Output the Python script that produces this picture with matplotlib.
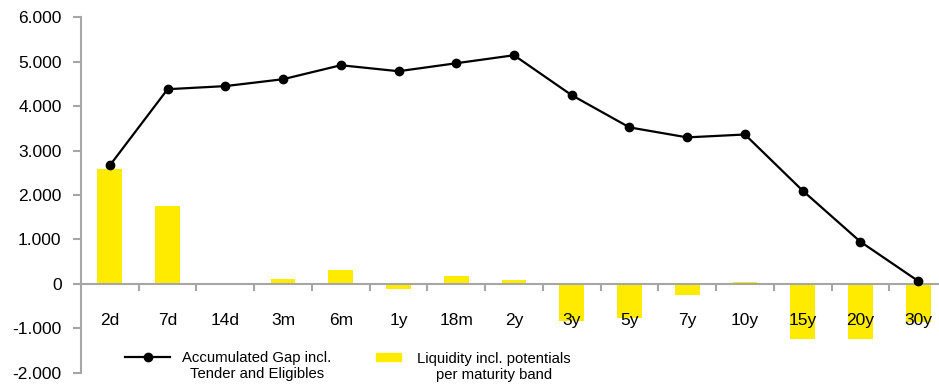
import matplotlib.pyplot as plt
from matplotlib.ticker import FuncFormatter
import numpy as np

bands = ['2d', '7d', '14d', '3m', '6m', '1y', '18m', '2y', '3y', '5y',
         '7y', '10y', '15y', '20y', '30y']
# accumulated gap (line) and liquidity per band (bars)
gap = [2670, 4385, 4455, 4610, 4925, 4790, 4970, 5150, 4250, 3525,
       3300, 3365, 2100, 950, 65]
liquidity = [2580, 1765, 0, 110, 315, -110, 180, 90, -835, -770,
             -250, 45, -1245, -1245, -860]

plt.rcParams['font.family'] = ['Liberation Sans', 'DejaVu Sans']
fig = plt.figure(figsize=(9.39, 3.87), dpi=100)
ax = fig.add_axes([81 / 939, 1 - 372.7 / 387, 866 / 939, 355.2 / 387])

x = np.arange(len(bands))
grey = '#a6a6a6'
ax.bar(x, liquidity, width=0.43, color='#ffeb00', zorder=1)
ax.plot(x, gap, color='black', lw=1.6, marker='o', ms=6, zorder=3)
ax.xaxis.set_zorder(2.5)

ax.set_xlim(-0.5, len(bands) - 0.5)
ax.set_ylim(-2000, 6000)
ax.set_yticks(range(-2000, 6001, 1000))
ax.yaxis.set_major_formatter(FuncFormatter(lambda v, p: f'{v:,.0f}'.replace(',', '.')))

ax.spines['top'].set_visible(False)
ax.spines['right'].set_visible(False)
ax.spines['bottom'].set_position(('data', 0))
for s in ('left', 'bottom'):
    ax.spines[s].set_color(grey)
    ax.spines[s].set_linewidth(1.5)
ax.spines['bottom'].set_zorder(2)

ax.set_xticks(x)
ax.set_xticklabels(bands)
ax.set_xticks(np.arange(0.5, len(bands) - 1, 1), minor=True)
ax.tick_params(axis='x', which='major', length=0, pad=21, labelsize=12.5)
ax.tick_params(axis='x', which='minor', length=5, width=1.5, color=grey, direction='out')
ax.tick_params(axis='y', length=6, width=1.5, color=grey, labelsize=12.5, pad=8)

# legend drawn by hand below the axis
ly = 1 - 357 / 387
fig.add_artist(plt.Line2D([125 / 939, 170 / 939], [ly, ly], color='black', lw=1.6,
                          transform=fig.transFigure))
fig.add_artist(plt.Line2D([147.5 / 939], [ly], color='black', marker='o', ms=6,
                          linestyle='none', transform=fig.transFigure))
fig.add_artist(plt.Rectangle((376 / 939, 1 - 361 / 387), 25 / 939, 8 / 387,
                             color='#ffeb00', transform=fig.transFigure))
fig.text(257 / 939, 1 - 366 / 387, 'Accumulated Gap incl.\nTender and Eligibles',
         ha='center', va='center', fontsize=10.7, linespacing=1.15)
fig.text(494 / 939, 1 - 367 / 387, 'Liquidity incl. potentials\nper maturity band',
         ha='center', va='center', fontsize=10.7, linespacing=1.15)

fig.savefig('out.png', dpi=100)
